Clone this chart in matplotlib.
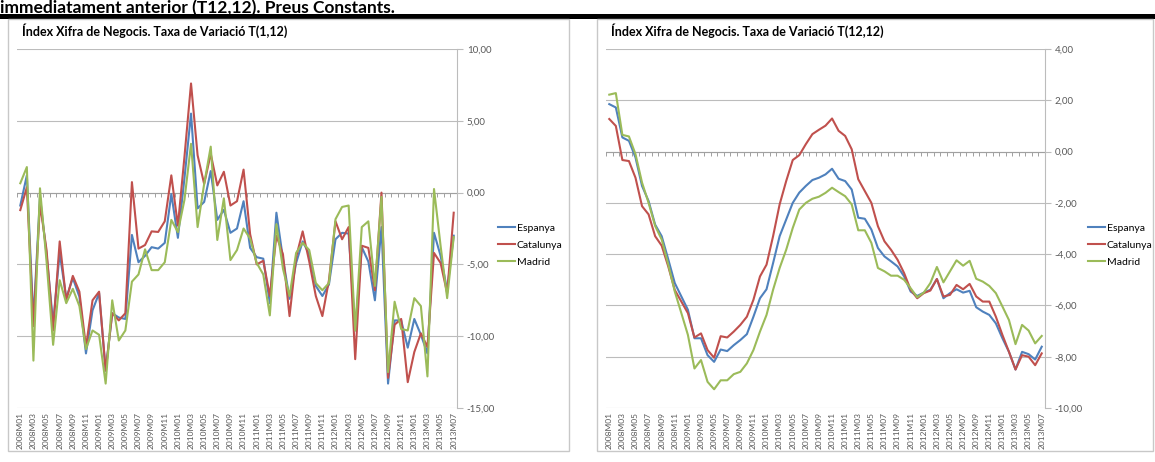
import matplotlib
matplotlib.use("Agg")
import matplotlib.pyplot as plt
import matplotlib.patches as mpatches
import numpy as np

# --- data ---
MONTHS = [f"{y}M{m:02d}" for y in range(2008, 2014) for m in range(1, 13)][:67]
SERIES = ["Espanya", "Catalunya", "Madrid"]

esp_1_12 = [-0.9, 1.2, -8.9, -0.3, -4.3, -9.1, -4.2, -7.35, -5.95, -7.25, -11.2, -8.2, -7.0, -12.4,
            -8.4, -8.7, -8.8, -2.95, -4.85, -4.4, -3.8, -3.9, -3.5, -0.1, -3.15, 1.0, 5.5, -1.1, -0.65,
            1.5, -1.9, -1.2, -2.8, -2.5, -0.6, -3.85, -4.5, -4.6, -7.7, -1.4, -4.6, -7.4, -4.9, -3.4,
            -4.3, -6.5, -7.2, -6.4, -3.25, -2.8, -2.85, -9.6, -3.8, -4.8, -7.5, -2.4, -13.3, -8.9,
            -8.9, -10.8, -8.8, -9.9, -11.2, -2.8, -4.4, -6.8, -3.0]
cat_1_12 = [-1.22, 0.37, -9.3, -0.8, -4.0, -9.6, -3.4, -7.5, -5.8, -6.9, -10.75, -7.5, -6.9, -12.4,
            -8.4, -8.9, -8.4, 0.73, -3.9, -3.65, -2.7, -2.74, -2.0, 1.2, -2.3, 2.5, 7.6, 2.6, 0.6,
            2.7, 0.5, 1.45, -0.9, -0.6, 1.6, -2.9, -5.0, -4.75, -7.2, -3.0, -4.3, -8.6, -4.5, -2.7,
            -4.8, -7.2, -8.6, -6.1, -2.0, -3.25, -2.4, -11.6, -3.7, -3.85, -6.8, 0.0, -12.9, -9.2,
            -8.8, -13.2, -11.1, -9.8, -10.75, -4.2, -4.9, -7.0, -1.4]
mad_1_12 = [0.65, 1.78, -11.7, 0.3, -4.8, -10.6, -6.1, -7.7, -6.7, -7.9, -10.9, -9.6, -9.9, -13.3,
            -7.5, -10.3, -9.6, -6.2, -5.7, -3.95, -5.4, -5.4, -4.85, -1.9, -2.75, -0.5, 3.4, -2.4,
            0.6, 3.2, -3.3, -0.4, -4.7, -4.0, -2.5, -3.2, -4.9, -5.7, -8.55, -2.2, -5.3, -7.2, -4.2,
            -3.5, -4.0, -6.3, -6.8, -6.3, -1.85, -1.0, -0.9, -9.6, -2.4, -2.0, -6.5, -0.3, -12.5,
            -7.6, -9.5, -9.6, -7.35, -7.9, -12.8, 0.25, -3.7, -7.35, -3.1]

esp_12_12 = [1.85, 1.72, 0.55, 0.42, -0.23, -1.34, -1.93, -2.85, -3.3, -4.2, -5.13, -5.65, -6.17,
             -7.28, -7.28, -7.94, -8.2, -7.72, -7.78, -7.55, -7.35, -7.12, -6.44, -5.72, -5.37,
             -4.35, -3.3, -2.65, -2.0, -1.6, -1.34, -1.11, -1.02, -0.89, -0.67, -1.06, -1.15, -1.48,
             -2.58, -2.62, -3.04, -3.76, -4.09, -4.28, -4.48, -4.87, -5.46, -5.63, -5.5, -5.39,
             -4.97, -5.72, -5.52, -5.37, -5.5, -5.43, -6.07, -6.24, -6.37, -6.7, -7.28, -7.81, -8.5,
             -7.81, -7.9, -8.11, -7.61]
cat_12_12 = [1.27, 1.0, -0.33, -0.37, -1.02, -2.13, -2.45, -3.3, -3.67, -4.48, -5.4, -5.85, -6.3,
             -7.25, -7.09, -7.74, -8.04, -7.2, -7.25, -7.02, -6.76, -6.44, -5.78, -4.87, -4.41,
             -3.3, -2.06, -1.15, -0.33, -0.14, 0.29, 0.68, 0.85, 1.01, 1.29, 0.81, 0.61, 0.09,
             -1.08, -1.54, -2.0, -2.91, -3.5, -3.83, -4.22, -4.74, -5.39, -5.72, -5.52, -5.42,
             -4.97, -5.65, -5.59, -5.2, -5.37, -5.16, -5.65, -5.85, -5.85, -6.44, -7.15, -7.81,
             -8.5, -7.94, -8.0, -8.33, -7.87]
mad_12_12 = [2.22, 2.28, 0.65, 0.59, -0.1, -1.21, -2.0, -2.9, -3.43, -4.4, -5.46, -6.3, -7.15,
             -8.46, -8.13, -8.98, -9.27, -8.92, -8.92, -8.68, -8.59, -8.26, -7.74, -7.02, -6.37,
             -5.39, -4.54, -3.83, -2.98, -2.26, -2.0, -1.84, -1.76, -1.61, -1.41, -1.58, -1.74,
             -2.06, -3.07, -3.07, -3.56, -4.54, -4.67, -4.84, -4.84, -5.0, -5.33, -5.68, -5.5,
             -5.13, -4.5, -5.1, -4.67, -4.24, -4.45, -4.26, -4.96, -5.07, -5.24, -5.52, -6.04,
             -6.57, -7.51, -6.76, -6.98, -7.48, -7.19]

COLORS = ["#4F81BD", "#C0504D", "#9BBB59"]
GRAY = "#595959"
GRID = "#bcbcbc"

plt.rcParams["font.family"] = ["Lato", "DejaVu Sans"]

W, H = 1155, 462
fig = plt.figure(figsize=(W / 100, H / 100), dpi=100)


def fx(px):
    return px / W


def fy(py):
    return 1 - py / H


# header text (top clipped in the original screenshot) and black bar
fig.text(fx(0), fy(13), "immediatament anterior (T12,12). Preus Constants.",
         fontsize=12.5, fontweight="bold", va="baseline", ha="left", color="black")
fig.patches.append(mpatches.Rectangle((0, fy(19)), 1, 5 / H, transform=fig.transFigure,
                                      facecolor="black", edgecolor="none"))


def panel(box, plot, title, data, ylim, yticks, legend_x):
    x0, y0, x1, y1 = box
    fig.patches.append(mpatches.Rectangle((fx(x0), fy(y1)), (x1 - x0) / W, (y1 - y0) / H,
                                          transform=fig.transFigure, facecolor="none",
                                          edgecolor="#c8c8c8", linewidth=1))
    fig.text(fx(x0 + 14), fy(y0 + 12), title, fontsize=9, fontweight="bold",
             va="center", ha="left", color="black")
    px0, py0, px1, py1 = plot
    ax = fig.add_axes([fx(px0), fy(py1), (px1 - px0) / W, (py1 - py0) / H])
    ax.set_facecolor("none")
    x = np.arange(len(MONTHS))
    handles = []
    for vals, name, c in zip(data, SERIES, COLORS):
        ln, = ax.plot(x, vals, color=c, lw=1.5, label=name, solid_joinstyle="round", zorder=3)
        handles.append(ln)
    ax.set_xlim(-0.5, len(MONTHS) - 0.5)
    ax.set_ylim(*ylim)
    ax.set_yticks(yticks)
    ax.set_yticklabels([f"{v:.2f}".replace(".", ",") for v in yticks])
    ax.yaxis.tick_right()
    ax.tick_params(axis="y", length=4, width=0.8, color=GRID, labelsize=7, labelcolor=GRAY, pad=3)
    ax.set_xticks(x[::2])
    ax.set_xticklabels(MONTHS[::2], rotation=90, fontsize=6, color=GRAY)
    ax.tick_params(axis="x", length=0, pad=3)
    for s in ["top", "left", "bottom"]:
        ax.spines[s].set_visible(False)
    ax.spines["right"].set_color(GRID)
    ax.spines["right"].set_linewidth(0.8)
    ax.yaxis.grid(True, color=GRID, lw=0.8)
    ax.set_axisbelow(True)
    # category axis crossing at zero with minor tick marks
    ax.axhline(0, color="#a0a0a0", lw=0.8, zorder=1)
    ax.plot(np.arange(len(MONTHS) + 1) - 0.5, np.zeros(len(MONTHS) + 1), ls="none",
            marker=3, markersize=3, color="#a0a0a0", markeredgewidth=0.7, zorder=1)
    fig.legend(handles=handles, loc="center left", bbox_to_anchor=(fx(legend_x), fy(245)),
               frameon=False, fontsize=7.5, handlelength=1.6, handletextpad=0.2,
               labelspacing=0.75, borderpad=0, borderaxespad=0)
    return ax


panel((8, 19, 569, 451), (17, 49, 457, 408),
      "Índex Xifra de Negocis. Taxa de Variació T(1,12)",
      [esp_1_12, cat_1_12, mad_1_12], (-15, 10), [-15, -10, -5, 0, 5, 10], 498)
panel((597, 19, 1153, 451), (606, 49, 1045, 408),
      "Índex Xifra de Negocis. Taxa de Variació T(12,12)",
      [esp_12_12, cat_12_12, mad_12_12], (-10, 4), [-10, -8, -6, -4, -2, 0, 2, 4], 1088)

fig.savefig("out.png", dpi=100)
